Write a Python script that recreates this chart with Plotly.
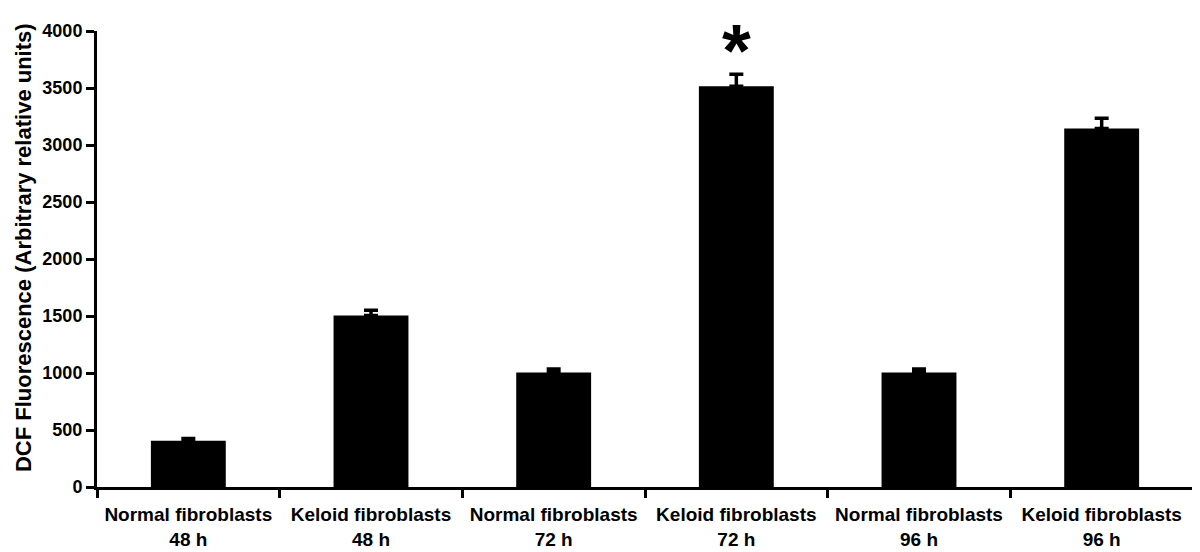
import plotly.graph_objects as go

categories = ["Normal fibroblasts<br>48 h", "Keloid fibroblasts<br>48 h",
              "Normal fibroblasts<br>72 h", "Keloid fibroblasts<br>72 h",
              "Normal fibroblasts<br>96 h", "Keloid fibroblasts<br>96 h"]
values = [405, 1505, 1005, 3515, 1005, 3145]
errors = [20, 45, 30, 105, 30, 90]
y_ticks = [0, 500, 1000, 1500, 2000, 2500, 3000, 3500, 4000]
y_title = "DCF Fluorescence (Arbitrary relative units)"
significance_marker = "*"
significant_category = categories[3]
significance_y = 3770

font_family = "Arial, Liberation Sans, sans-serif"

fig = go.Figure()
fig.add_trace(go.Bar(
    x=categories, y=values,
    marker=dict(color="black", line=dict(width=0)),
    width=0.41,
    error_y=dict(type="data", array=errors, arrayminus=[0] * len(errors),
                 symmetric=False, color="black", thickness=3.5, width=7),
))
fig.add_trace(go.Scatter(
    x=[significant_category], y=[significance_y], text=[significance_marker],
    mode="text", textposition="middle center", cliponaxis=False,
    textfont=dict(family=font_family, size=74, color="black", weight="bold"),
    hoverinfo="skip",
))

fig.add_annotation(
    xref="paper", yref="paper", x=-0.0675, y=0.524,
    xanchor="center", yanchor="middle", textangle=-90, showarrow=False,
    text=y_title,
    font=dict(family=font_family, size=22, color="black", weight="bold"),
)

fig.update_layout(
    width=1200, height=552,
    margin=dict(l=89, r=15, t=23, b=73),
    plot_bgcolor="white", paper_bgcolor="white",
    showlegend=False,
    font=dict(family=font_family, color="black"),
)
fig.update_xaxes(
    type="category", tickson="boundaries", automargin=False,
    showline=True, linecolor="black", linewidth=3,
    ticks="outside", ticklen=8, tickwidth=3, tickcolor="black",
    ticklabelstandoff=8,
    tickfont=dict(family=font_family, size=19, color="black", weight="bold"),
    showgrid=False, zeroline=False,
    range=[-0.5, 5.5],
)
fig.update_yaxes(
    range=[0, 4000], tickvals=y_ticks, automargin=False,
    showline=True, linecolor="black", linewidth=3,
    ticks="outside", ticklen=8, tickwidth=3, tickcolor="black",
    tickfont=dict(family=font_family, size=18, color="black", weight="bold"),
    showgrid=False, zeroline=False,
)

fig.write_html("out.html")
